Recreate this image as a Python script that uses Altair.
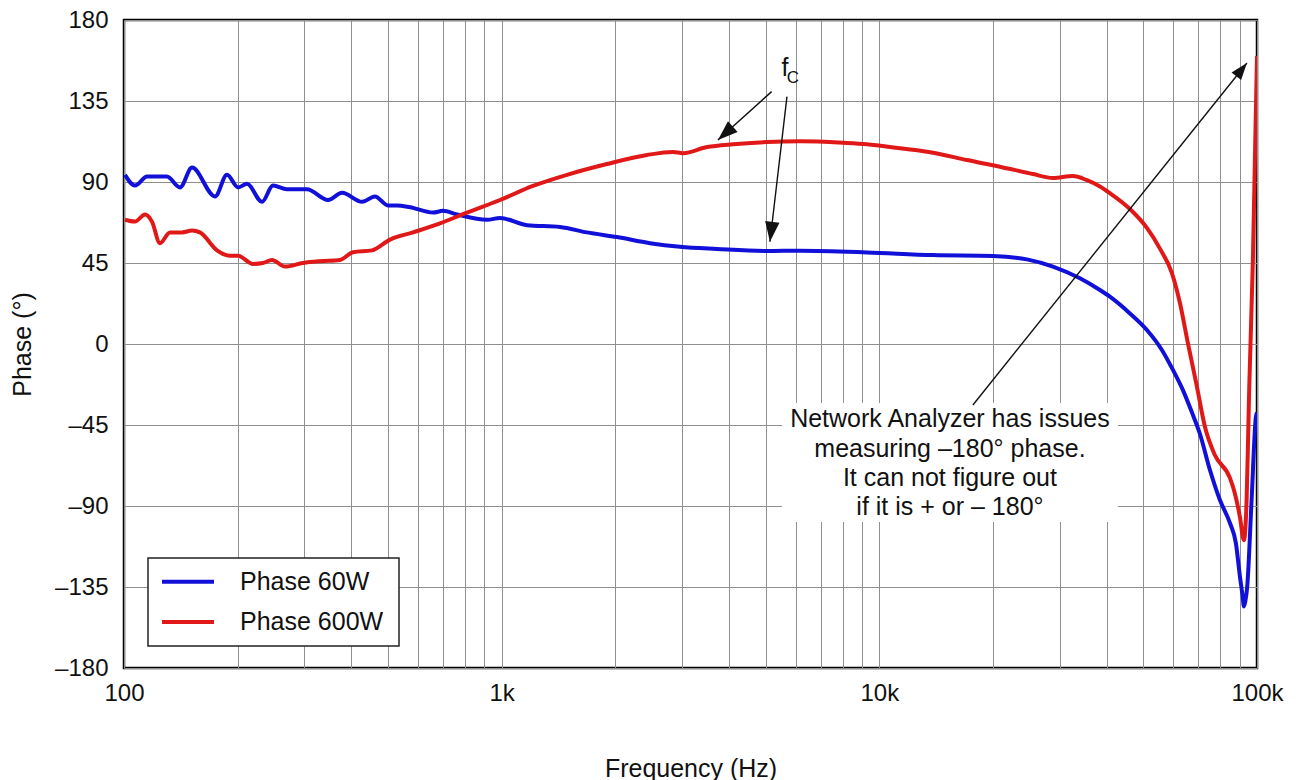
import altair as alt
import pandas as pd

FONT = "Liberation Sans"
TXT = "#111111"

SERIES = ["Phase 60W", "Phase 600W"]
COLORS = ["#1010d8", "#e01818"]

freq_60w = [100.6, 106.9, 115.1, 129.9, 140.7, 151.4, 174.2, 187.4, 200.4, 211.7,
            232, 248, 270, 305, 347, 378, 427, 462, 500, 528, 572, 658, 699, 761,
            915, 990, 1167, 1427, 1682, 2020, 2470, 2966, 3716, 5040, 6165, 9273,
            13870, 19990, 24590, 28820, 33970, 38380, 40780, 46080, 51110, 56000,
            59900, 63660, 67250, 70630, 75060, 79770, 84770, 87920, 90100, 91600,
            92330, 93100, 94190, 96760, 99330, 100000]
phase_60w = [94, 88, 93, 93, 87, 98, 82, 94, 87, 89,
             79, 88, 86, 86, 80, 84, 79, 82, 77, 77, 76, 73, 74, 72,
             69, 70, 66, 65, 62, 59.4, 56, 54, 52.8, 51.7, 51.8, 50.9,
             49.4, 48.9, 47, 43, 36.5, 30, 26.3, 17, 7.8, -3.3,
             -14.4, -25.6, -38, -50, -70, -86.7, -99.4, -110.6, -129, -140,
             -145.8, -143, -135, -86.7, -40.5, -38]

freq_600w = [100.6, 106.9, 113.7, 118.6, 124.5, 132.4, 142.4, 151.4, 158.9, 176.3,
             190.9, 200.4, 219.6, 233.3, 246.5, 266.9, 297.8, 330.3, 373.2, 404.1,
             453.5, 506.1, 582.5, 686.6, 809.2, 990, 1210, 1489, 1900, 2425, 2841,
             3020, 3497, 4098, 5040, 6165, 8010, 9273, 11340, 13870, 17060, 20860,
             25510, 28820, 32550, 35450, 38380, 40780, 46080, 51110, 55330, 59530,
             62510, 65620, 69330, 72800, 77340, 84770, 87390, 90100, 92330, 93860,
             94780, 95360, 97520, 98720, 100000]
phase_600w = [69, 68, 72, 68, 56, 62, 62, 63, 62, 52,
              49, 49, 44.5, 45, 46.7, 43, 45, 46, 46.7, 51,
              52, 58, 62, 67, 73, 80, 87.8, 94, 100, 105, 106.7,
              106, 109.4, 111, 112.2, 112.6, 111.8, 111, 108.7, 106.3, 102.2, 98.5,
              94.4, 92.2, 93.3, 91, 87.5, 83.8, 75, 64.5, 53, 39.4,
              22.8, 0.5, -23.7, -46, -61.7, -74.4, -83, -96, -109, -86.7,
              -49.6, -25, 46.7, 102, 160]

x_ticks = [m * d for d in (100, 1000, 10000) for m in range(1, 10)] + [100000]
y_ticks = [-180, -135, -90, -45, 0, 45, 90, 135, 180]

note_lines = ["Network Analyzer has issues", "measuring \u2013180\u00b0 phase.",
              "It can not figure out", "if it is + or \u2013 180\u00b0"]
note_freq = [15380, 15380, 15380, 15380]
note_phase = [-41.7, -58.1, -74.4, -90.8]

box_freq = [5522, 42830]
box_phase = [-32.8, -98.9]

arrow_f1 = [5185, 5694, 17690]
arrow_p1 = [140.2, 137.4, -33.9]
arrow_f2 = [3738, 5133, 94040]
arrow_p2 = [113.3, 56.8, 156.1]

fc_freq = [5624, 5906]
fc_phase = [153.3, 147.8]
fc_text = ["f", "C"]

curves = pd.concat([
    pd.DataFrame({"freq": freq_60w, "phase": phase_60w, "series": SERIES[0]}),
    pd.DataFrame({"freq": freq_600w, "phase": phase_600w, "series": SERIES[1]}),
])

XS = alt.Scale(type="log", domain=[100, 100000], nice=False)
YS = alt.Scale(domain=[-180, 180], nice=False)

x_axis = alt.Axis(
    values=x_ticks,
    labelExpr="datum.value == 100 ? '100' : datum.value == 1000 ? '1k' : datum.value == 10000 ? '10k' : datum.value == 100000 ? '100k' : ''",
    grid=True, gridColor="#8f8f8f", gridWidth=1, ticks=False, domain=False,
    labelFont=FONT, labelFontSize=24, labelColor=TXT, labelPadding=13,
    labelFlush=False, labelOverlap=False,
    titleFont=FONT, titleFontSize=25, titleFontWeight="normal", titleColor=TXT,
    titleY=100, titleBaseline="middle",
)
y_axis = alt.Axis(
    values=y_ticks,
    labelExpr="datum.value < 0 ? '\u2013' + (-datum.value) : '' + datum.value",
    grid=True, gridColor="#8f8f8f", gridWidth=1, ticks=False, domain=False,
    labelFont=FONT, labelFontSize=24, labelColor=TXT, labelPadding=16,
    labelFlush=False, labelOverlap=False,
    titleFont=FONT, titleFontSize=25, titleFontWeight="normal", titleColor=TXT,
    titleX=-102, titleY=324, titleAngle=-90, titleBaseline="middle", titleAlign="center",
)

X_TITLE = "Frequency (Hz)"
Y_TITLE = "Phase (\u00b0)"


def X(field):
    return alt.X(field, scale=XS, axis=x_axis, title=X_TITLE)


def Y(field):
    return alt.Y(field, scale=YS, axis=y_axis, title=Y_TITLE)


lines = alt.Chart(curves).mark_line(strokeWidth=4, interpolate="monotone", clip=True).encode(
    x=X("freq:Q"),
    y=Y("phase:Q"),
    color=alt.Color("series:N", scale=alt.Scale(domain=SERIES, range=COLORS), legend=None),
)

box_df = pd.DataFrame({"f1": [box_freq[0]], "f2": [box_freq[1]], "p1": [box_phase[0]], "p2": [box_phase[1]]})
box = alt.Chart(box_df).mark_rect(fill="white", strokeWidth=0).encode(
    x=X("f1:Q"), x2="f2:Q", y=Y("p1:Q"), y2="p2:Q",
)

note_df = pd.DataFrame({"freq": note_freq, "phase": note_phase, "label": note_lines})
note = alt.Chart(note_df).mark_text(font=FONT, fontSize=25, color=TXT, align="center", baseline="middle").encode(
    x=X("freq:Q"), y=Y("phase:Q"), text="label:N",
)

arrow_df = pd.DataFrame({"f1": arrow_f1, "p1": arrow_p1, "f2": arrow_f2, "p2": arrow_p2})
arrow_lines = alt.Chart(arrow_df).mark_rule(color="#111111", strokeWidth=1.4).encode(
    x=X("f1:Q"), x2="f2:Q", y=Y("p1:Q"), y2="p2:Q",
)

HEAD = "M0,0 L-0.36,1 L0.36,1 Z"
heads = []
for i, (ang, sz) in enumerate([(228, 1600), (186.7, 1600), (38.7, 1150)]):
    heads.append(
        alt.Chart(arrow_df.iloc[[i]]).mark_point(shape=HEAD, filled=True, color="#111111",
                                                 opacity=1, size=sz, angle=ang).encode(
            x=X("f2:Q"), y=Y("p2:Q"),
        )
    )

fc_df = pd.DataFrame({"freq": fc_freq, "phase": fc_phase, "t": fc_text})
fc_f = alt.Chart(fc_df.iloc[[0]]).mark_text(font=FONT, fontSize=25, color=TXT, baseline="middle").encode(
    x=X("freq:Q"), y=Y("phase:Q"), text="t:N")
fc_c = alt.Chart(fc_df.iloc[[1]]).mark_text(font=FONT, fontSize=17, color=TXT, baseline="middle").encode(
    x=X("freq:Q"), y=Y("phase:Q"), text="t:N")

# legend (drawn in plot pixels)
one = pd.DataFrame({"k": [0]})
leg_box = alt.Chart(one).mark_rect(fill="white", stroke="#222222", strokeWidth=1.5).encode(
    x=alt.value(24), x2=alt.value(275), y=alt.value(538), y2=alt.value(626))
leg_layers = [leg_box]
for i, (name, col) in enumerate(zip(SERIES, COLORS)):
    yy = 561.7 + 40.3 * i
    leg_layers.append(alt.Chart(one).mark_rule(color=col, strokeWidth=4).encode(
        x=alt.value(38), x2=alt.value(90), y=alt.value(yy)))
    leg_layers.append(alt.Chart(one).mark_text(font=FONT, fontSize=25, color=TXT, align="left",
                                               baseline="middle", text=name).encode(
        x=alt.value(116), y=alt.value(yy)))

chart = alt.layer(lines, box, note, arrow_lines, *heads, fc_f, fc_c, *leg_layers).properties(
    width=1133, height=648,
    padding={"left": 124, "top": 20, "right": 39, "bottom": 112},
    autosize=alt.AutoSizeParams(type="none"),
    background="white",
).configure_view(stroke="black", strokeWidth=2.5)

chart.save("out.html", embed_options={"renderer": "svg", "actions": False})
